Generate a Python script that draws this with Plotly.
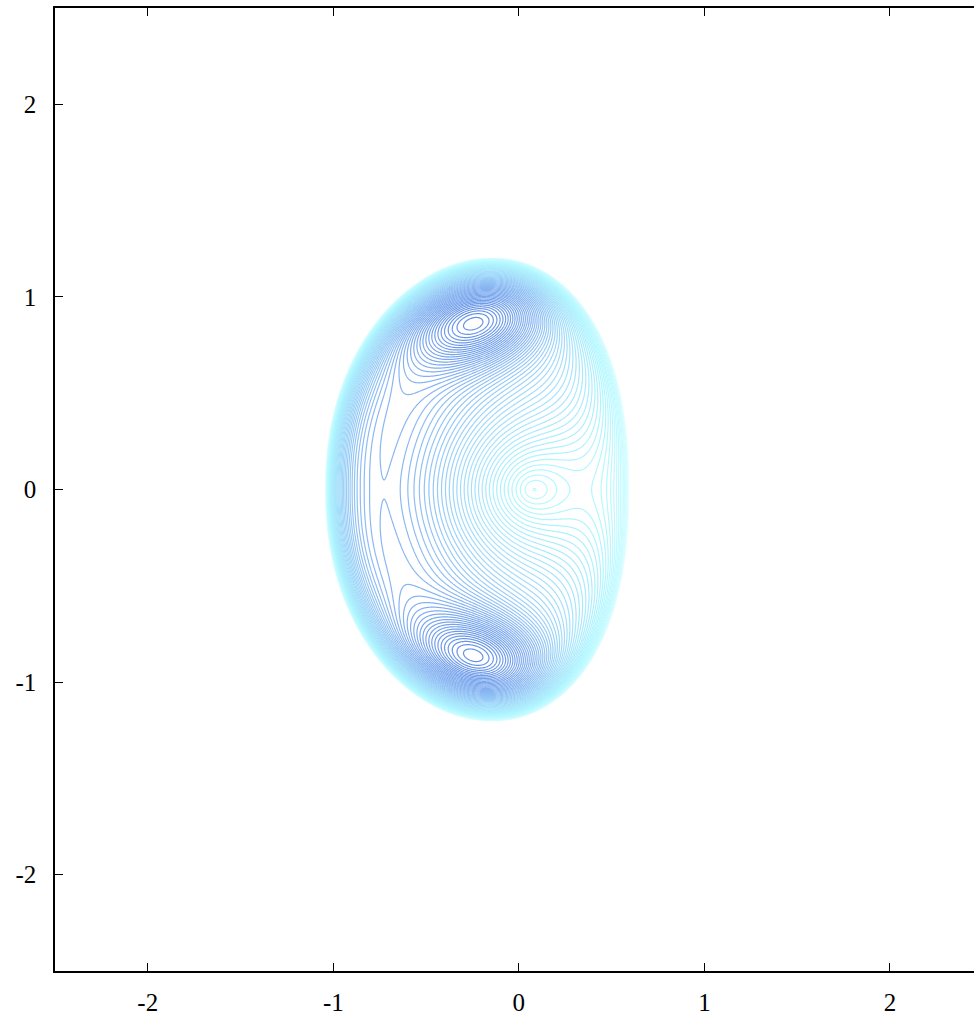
import numpy as np
import plotly.graph_objects as go

# ---- axes ----
x_range = [-2.5, 2.453]
y_range = [-2.5, 2.5]
tick_vals = [-2, -1, 0, 1, 2]
tick_text = ["-2", "-1", "0", "1", "2"]

# ---- features ----
grid_x = [-1.1, 0.7, 541]
grid_y = [-1.25, 1.25, 751]
boundary_center = [-0.225, 0.08]      # centre x, skew toward top
boundary_axes = [0.815, 1.2]          # half width, half height
boundary_power = [2.2, 0.5]           # y exponent, envelope exponent
basin_center = [0.075, 0.0]           # elliptic point on the axis
basin_yscale = [0.85, 0.04]           # y scale, smoothing
saddle_x = [-0.75, 0.29]              # hyperbolic points on the axis
island_target = [-0.253, 0.861]       # elliptic points (and mirror)
island_shape = [0.40, 0.22, 0.25]     # long width, short width, tilt (rad)
line_counts = [32, 20]                # contours centre->left saddle, left saddle->island
colors = ["#e6ffff", "#b0f7ff", "#a2dcfa", "#8ab6f2", "#6492e6"]

xs = np.linspace(*grid_x[:2], int(grid_x[2]))
ys = np.linspace(*grid_y[:2], int(grid_y[2]))


def envelope(X, Y):
    v = Y / boundary_axes[1]
    cx = boundary_center[0] + boundary_center[1] * v**2
    u = (X - cx) / boundary_axes[0]
    g = 1 - u**2 - np.abs(v) ** boundary_power[0]
    return np.clip(g, 0, 1) ** boundary_power[1], g


def bowl(X, Y, w0, m, c):
    dx = X - basin_center[0]
    r = np.sqrt(dx**2 + ((Y - basin_center[1]) / basin_yscale[0]) ** 2 + basin_yscale[1] ** 2)
    return w0 + r**m + c * np.maximum(0, -dx) ** 2


def islands(X, Y, h, xi, yi):
    out = 0.0
    for sgn in (1, -1):
        t = island_shape[2] * sgn
        dx, dy = X - xi, Y - sgn * yi
        p = dx * np.cos(t) + dy * np.sin(t)
        q = -dx * np.sin(t) + dy * np.cos(t)
        out = out + h * np.exp(-(p**2 / island_shape[0] ** 2 + q**2 / island_shape[1] ** 2))
    return out


# --- fit the axis profile (left saddle, centre, right saddle) ---
S1, _ = envelope(xs, 0 * xs)
best = None
for m in (1.0, 1.25, 1.5, 1.75, 2.0):
    for w0 in np.linspace(0, 1.5, 31):
        for c in np.linspace(0, 4, 41):
            f = S1 * bowl(xs, 0 * xs, w0, m, c)
            left = (xs > -1.0) & (xs < basin_center[0])
            right = (xs > basin_center[0]) & (xs < 0.58)
            iL = np.where(left)[0][np.argmax(f[left])]
            iR = np.where(right)[0][np.argmax(f[right])]
            if iR <= iL + 2:
                continue
            iC = iL + np.argmin(f[iL:iR])
            fL, fR, fC = f[iL], f[iR], f[iC]
            if fR - fC <= 1e-6:
                continue
            ratio = (fL - fC) / (fR - fC)
            cost = ((xs[iL] - saddle_x[0]) / 0.02) ** 2 + ((xs[iR] - saddle_x[1]) / 0.02) ** 2 \
                + ((ratio - 7) / 1.5) ** 2 + ((xs[iC] - basin_center[0]) / 0.03) ** 2
            if best is None or cost < best[0]:
                best = (cost, m, w0, c, fL, fR, fC)
_, m_b, w0_b, c_b, fL, fR, fC = best
step = (fL - fC) / line_counts[0]
fI_target = fL + line_counts[1] * step

# --- fit the islands (position and height) ---
wx = np.linspace(-0.8, 0.3, 111)
wy = np.linspace(0.3, 1.2, 91)
WX, WY = np.meshgrid(wx, wy)
Sw, _ = envelope(WX, WY)
Bw = bowl(WX, WY, w0_b, m_b, c_b)
bi = None
for xi in np.linspace(-0.36, -0.16, 11):
    for yi in np.linspace(0.78, 1.06, 15):
        G = islands(WX, WY, 1.0, xi, yi)
        for h in np.linspace(0.05, 1.5, 30):
            F = Sw * (Bw + h * G)
            k = np.argmax(F)
            px, py = WX.flat[k], WY.flat[k]
            cost = ((px - island_target[0]) / 0.01) ** 2 + ((py - island_target[1]) / 0.01) ** 2 \
                + ((F.flat[k] - fI_target) / (0.5 * step)) ** 2
            if bi is None or cost < bi[0]:
                bi = (cost, xi, yi, h)
_, xi_b, yi_b, h_b = bi

X, Y = np.meshgrid(xs, ys)
S, g = envelope(X, Y)
Z = S * (bowl(X, Y, w0_b, m_b, c_b) + islands(X, Y, h_b, xi_b, yi_b))
Z[g <= 0] = 0.0
fmax = float(Z.max())

colorscale = [[0.0, colors[0]], [fR / fmax, colors[1]], [0.5 * (fR + fL) / fmax, colors[2]],
              [fL / fmax, colors[3]], [1.0, colors[4]]]

fig = go.Figure()
fig.add_trace(go.Contour(
    x=xs, y=ys, z=np.round(Z, 5),
    zmin=0, zmax=fmax,
    contours=dict(start=step * 0.5, end=fmax, size=step, coloring="lines"),
    colorscale=colorscale, showscale=False,
    line=dict(width=1.2, smoothing=0),
    hoverinfo="skip",
))

axis_common = dict(
    showgrid=False, zeroline=False, showline=True, linecolor="black", linewidth=1.5,
    ticks="inside", ticklen=8, tickwidth=1, tickcolor="black",
    tickvals=tick_vals, ticktext=tick_text,
    tickfont=dict(family="Liberation Serif", size=25, color="black"),
)
fig.update_layout(
    width=974, height=1020,
    margin=dict(l=55, r=0, t=8, b=49),
    paper_bgcolor="white", plot_bgcolor="white",
    xaxis=dict(range=x_range, mirror="ticks", ticklabelstandoff=8, **axis_common),
    yaxis=dict(range=y_range, mirror=False, ticklabelstandoff=12, **axis_common),
    showlegend=False,
)
fig.write_html("out.html")
